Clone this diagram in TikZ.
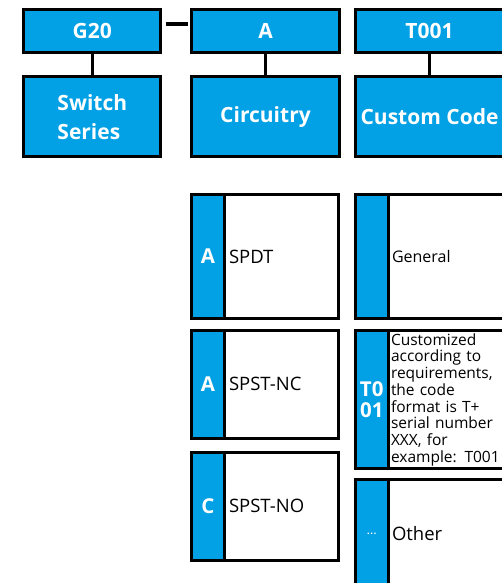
\documentclass[tikz,border=0pt]{standalone}
\usepackage{fontspec}
\setmainfont{Open Sans}
\usetikzlibrary{positioning}
\definecolor{codeblue}{RGB}{2,160,228}

\begin{document}
\begin{tikzpicture}[x=1pt,y=-1pt,
    box/.style={draw=black, line width=3pt, fill=codeblue, outer sep=0pt, inner sep=0pt, anchor=north west, text=white, font=\fontsize{21}{29}\selectfont\bfseries},
    strip/.style={draw=black, line width=3pt, fill=codeblue, outer sep=0pt, inner sep=0pt, anchor=north west, text=white, align=center, font=\fontsize{20.5}{21}\selectfont\bfseries},
    desc/.style={draw=black, line width=3pt, fill=white, outer sep=0pt, inner xsep=4pt, inner ysep=0pt, align=left, font=\fontsize{18.5}{20}\selectfont},
    wire/.style={line width=3pt}]
    \useasboundingbox (0,0) rectangle (502,583);
    \node[box, minimum width=137pt, minimum height=42.7pt] (g20) at (23.8,9.5) {G20};
    \node[box, minimum width=137pt, minimum height=80pt, align=left] (series) at (23.8,76.8) {Switch\\Series};
    \node[box, minimum width=147.4pt, minimum height=42.7pt] (circ) at (191.8,9.5) {A};
    \node[box, minimum width=147.4pt, minimum height=80pt] (circuitry) at (191.8,76.8) {Circuitry};
    \node[box, minimum width=147.5pt, minimum height=42.7pt] (code) at (355.8,9.5) {T001};
    \node[box, minimum width=147.5pt, minimum height=80pt] (custom) at (355.8,76.8) {Custom Code};
    \draw[wire] (g20) -- (series);
    \draw[wire] (circ) -- (circuitry);
    \draw[wire] (code) -- (custom);
    \draw[line width=3.5pt] ([xshift=4.9pt,yshift=6.8pt]g20.east) -- ([xshift=-3.5pt,yshift=6.8pt]circ.west);
    \node[strip, minimum width=32.7pt, minimum height=123.4pt] (spdtkey) at (191.5,194.8) {A};
    \node[desc, right=0pt of spdtkey, minimum width=114.6pt, minimum height=123.4pt, text width=105pt] (spdt) {SPDT};
    \node[strip, minimum width=32.7pt, minimum height=107.7pt] (nckey) at (191.5,330.5) {A};
    \node[desc, right=0pt of nckey, minimum width=114.6pt, minimum height=107.7pt, text width=105pt] (nc) {SPST-NC};
    \node[strip, minimum width=32.7pt, minimum height=107.7pt] (nokey) at (191.5,452.5) {C};
    \node[desc, right=0pt of nokey, minimum width=114.6pt, minimum height=107.7pt, text width=105pt] (no) {SPST-NO};
    \node[strip, minimum width=32.5pt, minimum height=123.4pt] (genkey) at (355.5,194.8) {};
    \node[desc, right=0pt of genkey, minimum width=115pt, minimum height=123.4pt, text width=107pt, font=\fontsize{16}{18}\selectfont] (gen) {General};
    \node[strip, minimum width=32.5pt, minimum height=138.3pt] (custkey) at (355.5,330.5) {T0\\01};
    \node[desc, right=0pt of custkey, minimum width=115pt, minimum height=138.3pt, text width=109pt, inner xsep=3pt, font=\fontsize{15.5}{16.7}\selectfont] (cust) {Customized\\according to\\requirements,\\the code\\format is T+\\serial number\\XXX, for\\example: T001};
    \node[strip, minimum width=32.5pt, minimum height=107.7pt, font=\fontsize{13}{14}\selectfont] (othkey) at (355.5,479.8) {…};
    \node[desc, right=0pt of othkey, minimum width=115pt, minimum height=107.7pt, text width=107pt] (oth) {Other};
\end{tikzpicture}
\end{document}
